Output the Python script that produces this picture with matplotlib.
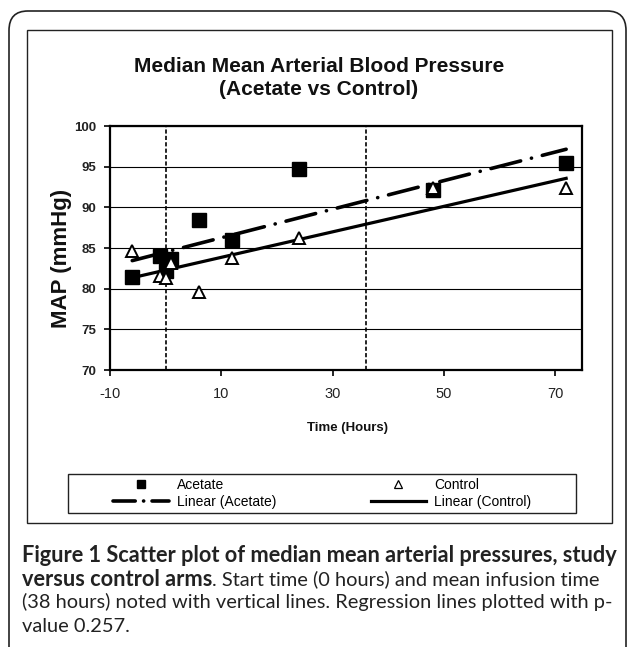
import numpy as np
import matplotlib
matplotlib.use("Agg")
import matplotlib.pyplot as plt
from matplotlib.lines import Line2D
from matplotlib.patches import Rectangle, FancyBboxPatch

# data
acetate_x = [-6, -1, 0, 1, 6, 12, 24, 48, 72]
acetate_y = [81.4, 84.0, 82.2, 83.7, 88.4, 86.0, 94.7, 92.1, 95.4]
control_x = [-6, -1, 0, 1, 6, 12, 24, 48, 72]
control_y = [84.6, 81.6, 81.3, 83.1, 79.6, 83.8, 86.2, 92.4, 92.4]
vlines_x = [0, 36]
xticks = [-10, 10, 30, 50, 70]
yticks = [70, 75, 80, 85, 90, 95, 100]

title = "Median Mean Arterial Blood Pressure\n(Acetate vs Control)"
cap_bold1 = "Figure 1 Scatter plot of median mean arterial pressures, study"
cap_bold2 = "versus control arms"
cap_rest2 = ". Start time (0 hours) and mean infusion time"
cap_line3 = "(38 hours) noted with vertical lines. Regression lines plotted with p-"
cap_line4 = "value 0.257."

W, H = 629, 647
plt.rcParams["lines.scale_dashes"] = False
plt.rcParams["axes.unicode_minus"] = False
fig = plt.figure(figsize=(W / 100, H / 100), dpi=100)


def fx(px):
    return px / W


def fy(py):
    return 1 - py / H


# outer rounded border and inner chart frame
fig.patches.append(FancyBboxPatch((fx(9), fy(700)), fx(617), (700 - 11) / H,
                                  boxstyle="round,pad=0,rounding_size=0.03",
                                  transform=fig.transFigure, fill=False,
                                  edgecolor="#222222", lw=1.2))
fig.patches.append(Rectangle((fx(27), fy(523)), fx(585), (523 - 30) / H,
                             transform=fig.transFigure, fill=False,
                             edgecolor="#222222", lw=1.0))
fig.patches.append(Rectangle((fx(68), fy(513)), fx(508), 39 / H,
                             transform=fig.transFigure, fill=False,
                             edgecolor="#222222", lw=1.0))

arial = "Liberation Sans"
ax = fig.add_axes([fx(110), fy(370), fx(472), 244 / H])
ax.set_xlim(-10, 74.85)
ax.set_ylim(70, 100)
ax.set_xticks(xticks)
ax.set_yticks(yticks)
for s in ax.spines.values():
    s.set_linewidth(1.6)
ax.tick_params(axis="both", direction="out", length=4, width=1.2, colors="black")
ax.tick_params(axis="x", pad=8)
ax.tick_params(axis="y", pad=6)
for t in ax.get_xticklabels():
    t.set_fontfamily(arial)
    t.set_fontsize(10.5)
    t.set_color("#222222")
for t in ax.get_yticklabels():
    t.set_fontfamily(arial)
    t.set_fontsize(9.5)
    t.set_fontweight("bold")
    t.set_color("#222222")
ax.yaxis.grid(True, color="black", lw=0.8)
ax.set_axisbelow(True)

for v in vlines_x:
    ax.axvline(v, color="black", lw=1.2, dashes=(3, 1.6), zorder=2)

# regression lines (least squares)
ka, ba = np.polyfit(acetate_x, acetate_y, 1)
kc, bc = np.polyfit(control_x, control_y, 1)
xr = np.array([min(acetate_x), max(acetate_x)])
ax.plot(xr, ka * xr + ba, color="black", lw=2.6, dashes=(22, 8, 0.1, 8),
        dash_capstyle="round", zorder=3)
ax.plot(xr, kc * xr + bc, color="black", lw=2.3, zorder=3)

ax.plot(acetate_x, acetate_y, ls="none", marker="s", ms=9.5, mfc="black",
        mec="black", zorder=4)
ax.plot(control_x, control_y, ls="none", marker="^", ms=9, mfc="white",
        mec="black", mew=1.4, zorder=5)

fig.text(fx(319), fy(78), title, ha="center", va="center", fontsize=15,
         fontweight="bold", family=arial, color="#111111", linespacing=1.25)
fig.text(fx(61), fy(258), "MAP (mmHg)", rotation=90, ha="center",
         va="center", fontsize=16, fontweight="bold", family=arial,
         color="#111111")
fig.text(fx(348), fy(428), "Time (Hours)", ha="center", va="center",
         fontsize=9.5, fontweight="bold", family=arial, color="#111111")

# legend
handles = [
    Line2D([], [], ls="none", marker="s", ms=5.5, mfc="black", mec="black"),
    Line2D([], [], color="black", lw=2.6, dashes=(16, 6, 0.1, 6),
           dash_capstyle="round"),
    Line2D([], [], ls="none", marker="^", ms=5.5, mfc="white", mec="black",
           mew=0.9),
    Line2D([], [], color="black", lw=2.3),
]
labels = ["Acetate", "Linear (Acetate)", "Control", "Linear (Control)"]
fig.legend(handles, labels, ncol=2, mode="expand", frameon=False,
           bbox_to_anchor=(fx(112), fy(513), fx(421), 39 / H),
           loc="center", borderaxespad=0, borderpad=0.1,
           handlelength=4.0, handletextpad=0.6, labelspacing=0.25,
           prop={"family": arial, "size": 10})

# caption, sized to fit the 590 px text block
capfont = ["Lato", "DejaVu Sans"]
fig.canvas.draw()
r = fig.canvas.get_renderer()
base = 12
t1 = fig.text(fx(22), fy(555), cap_bold1, ha="left", va="center",
              fontsize=base, fontweight="bold", family=capfont, color="#222222")
bsize = base * 590 / t1.get_window_extent(r).width
t1.set_fontsize(bsize)
t3 = fig.text(fx(22), fy(602), cap_line3, ha="left", va="center",
              fontsize=base, family=capfont, color="#222222")
rsize = base * 590 / t3.get_window_extent(r).width
t3.set_fontsize(rsize)
t2 = fig.text(fx(22), fy(579), cap_bold2, ha="left", va="center",
              fontsize=bsize, fontweight="bold", family=capfont, color="#222222")
w2 = t2.get_window_extent(r).width
fig.text(fx(22 + w2), fy(579), cap_rest2, ha="left", va="center",
         fontsize=rsize, family=capfont, color="#222222")
fig.text(fx(22), fy(626), cap_line4, ha="left", va="center",
         fontsize=rsize, family=capfont, color="#222222")

fig.savefig("out.png", dpi=100)
